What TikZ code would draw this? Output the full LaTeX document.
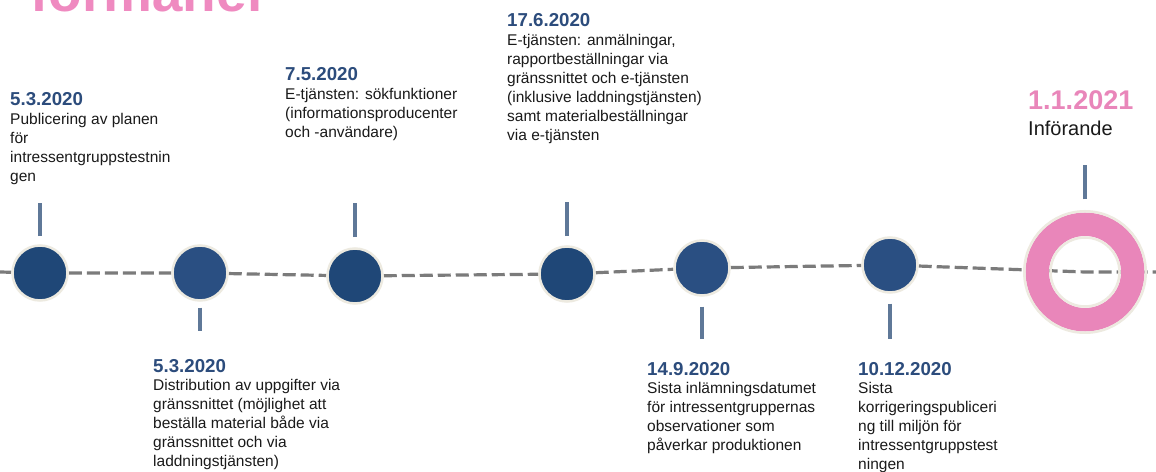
\documentclass[tikz,border=0pt]{standalone}
\usepackage{fontspec}
\setmainfont{Liberation Sans}
\usetikzlibrary{backgrounds}
\definecolor{navyA}{HTML}{1F4777}
\definecolor{navyB}{HTML}{2A4F82}
\definecolor{creamc}{HTML}{EDEAE0}
\definecolor{ringpink}{HTML}{E986BA}
\definecolor{titlepink}{HTML}{EF8AC0}
\definecolor{dateblue}{HTML}{2C4C7C}
\definecolor{tickc}{HTML}{5F7898}
\definecolor{linegray}{HTML}{7B7B7B}
\definecolor{textc}{HTML}{1A1A1A}
\tikzset{
  dot/.style={circle, minimum size=55pt, inner sep=0pt, draw=creamc, line width=2.5pt, fill=#1},
  tickline/.style={draw=tickc, line width=3.2pt},
  timeline/.style={draw=linegray, line width=3.2pt, dash pattern=on 13pt off 5pt},
  evtext/.style={anchor=base west, inner sep=0pt, align=left, text=textc,
    font=\fontsize{15.5}{18.9}\selectfont},
}
\newcommand{\evdate}[1]{{\bfseries\fontsize{18.7}{18.9}\selectfont\color{dateblue}#1}}
\begin{document}
\begin{tikzpicture}[x=1pt,y=1pt]
\useasboundingbox (0,0) rectangle (1156,471);
\begin{scope}[on background layer]
  \fill[white] (0,0) rectangle (1156,471);
\end{scope}
% title (cut off at the top)
\begin{scope}
  \clip (0,0) rectangle (1156,471);
  \node[anchor=base west, inner sep=0pt, text=titlepink,
        font=\bfseries\fontsize{55}{60}\selectfont] (title) at (30,459) {förmåner};
\end{scope}
% timeline points
\coordinate (lend) at (0,199);
\coordinate (rend) at (1156,199);
\node[dot=navyA] (c1) at (40,198) {};
\node[dot=navyB] (c2) at (200,198) {};
\node[dot=navyA] (c3) at (355,195) {};
\node[dot=navyA] (c4) at (567,197) {};
\node[dot=navyB] (c5) at (702,203) {};
\node[dot=navyB] (c6) at (890,206) {};
\node[circle, minimum size=95.5pt, inner sep=0pt, draw=ringpink, line width=23.5pt] (ring) at (1085,199) {};
\draw[creamc, line width=2.5pt] (ring.center) circle (60.75);
\draw[creamc, line width=2.5pt] (ring.center) circle (34.5);
\begin{scope}[on background layer]
  \draw[timeline] (lend) -- (c1) -- (c2) -- (c3) -- (c4) -- (c5) -- (c6) -- (ring.center) -- (rend);
\end{scope}
% ticks
\draw[tickline] ([yshift=8]c1.north) -- ++(0,33);
\draw[tickline] ([yshift=-6]c2.south) -- ++(0,-23);
\draw[tickline] ([yshift=10]c3.north) -- ++(0,34);
\draw[tickline] ([yshift=9]c4.north) -- ++(0,34);
\draw[tickline] ([yshift=-10]c5.south) -- ++(0,-32);
\draw[tickline] ([yshift=-10]c6.south) -- ++(0,-35);
\draw[tickline] ([yshift=13]ring.north) -- ++(0,34);
% texts (anchor = baseline of the last line)
\node[evtext] (t1) at (10,289.4) {\evdate{5.3.2020}\\Publicering av planen\\för\\intressentgruppstestnin\\gen};
\node[evtext] (t2) at (285,333.3) {\evdate{7.5.2020}\\E-tjänsten: sökfunktioner\\(informationsproducenter\\och -användare)};
\node[evtext] (t3) at (507,330.6) {\evdate{17.6.2020}\\E-tjänsten: anmälningar,\\rapportbeställningar via\\gränssnittet och e-tjänsten\\(inklusive laddningstjänsten)\\samt materialbeställningar\\via e-tjänsten};
\node[anchor=base west, inner sep=0pt, text=ringpink, font=\bfseries\fontsize{27}{30}\selectfont] (d7) at (1028,361) {1.1.2021};
\node[anchor=base west, inner sep=0pt, text=textc, font=\fontsize{20}{24}\selectfont] (t7) at (1028,335) {Införande};
\node[evtext] (t4) at (153,4.5) {\evdate{5.3.2020}\\Distribution av uppgifter via\\gränssnittet (möjlighet att\\beställa material både via\\gränssnittet och via\\laddningstjänsten)};
\node[evtext] (t5) at (647,20.4) {\evdate{14.9.2020}\\Sista inlämningsdatumet\\för intressentgruppernas\\observationer som\\påverkar produktionen};
\node[evtext] (t6) at (858,1.5) {\evdate{10.12.2020}\\Sista\\korrigeringspubliceri\\ng till miljön för\\intressentgruppstest\\ningen};
\end{tikzpicture}
\end{document}
